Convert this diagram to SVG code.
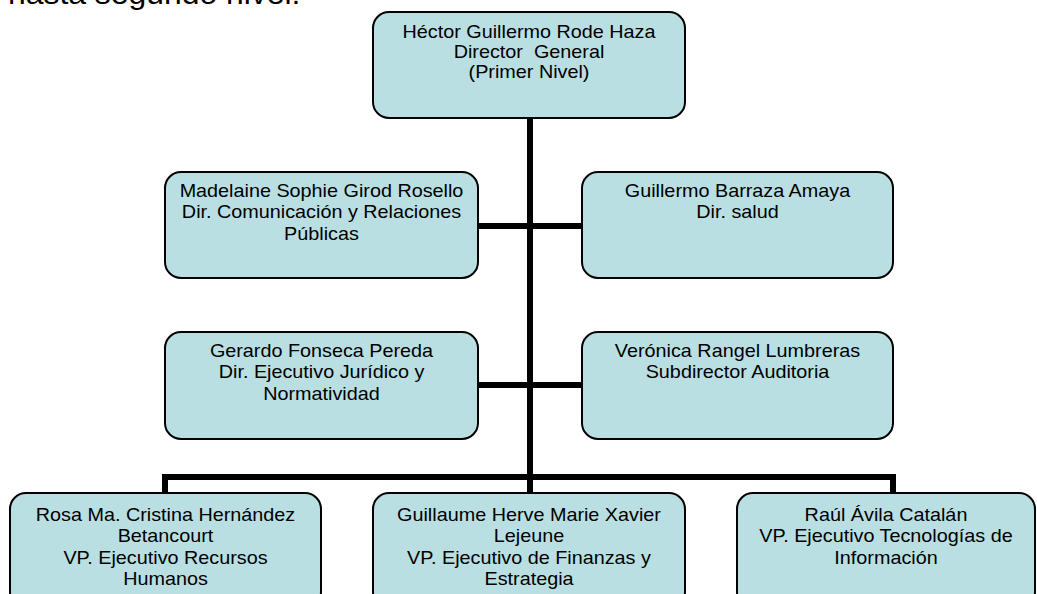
<svg xmlns="http://www.w3.org/2000/svg" width="1037" height="594" viewBox="0 0 1037 594">
<style>
.box{fill:#B9DFE3;stroke:#000;stroke-width:2}
.t{font-family:"Liberation Sans",Arial,sans-serif;font-size:18px;fill:#000;text-anchor:middle}
.h{font-family:"Liberation Sans",Arial,sans-serif;font-size:29px;fill:#000}
.c{stroke:#000;stroke-width:6;fill:none}
</style>
<rect width="1037" height="594" fill="#fff"/>
<text class="h" transform="translate(8,4) scale(1.1,1)">hasta segundo nivel.</text>
<g id="connectors">
<line class="c" x1="530" y1="118" x2="530" y2="477"/>
<line class="c" x1="478" y1="226" x2="582" y2="226"/>
<line class="c" x1="478" y1="385" x2="582" y2="385"/>
<line class="c" x1="162" y1="477" x2="896" y2="477"/>
<line class="c" x1="165" y1="477" x2="165" y2="493"/>
<line class="c" x1="530" y1="477" x2="530" y2="493"/>
<line class="c" x1="893" y1="477" x2="893" y2="493"/>
</g>
<g id="n-hector">
<rect class="box" x="373" y="12" width="312" height="106" rx="16"/>
<text class="t" transform="translate(529,0) scale(1.1,1)"><tspan x="0" y="38">Héctor Guillermo Rode Haza</tspan><tspan x="0" y="58">Director&#160; General</tspan><tspan x="0" y="78">(Primer Nivel)</tspan></text>
</g>
<g id="n-madelaine">
<rect class="box" x="165" y="172" width="313" height="106" rx="16"/>
<text class="t" transform="translate(321.5,0) scale(1.1,1)"><tspan x="0" y="197">Madelaine Sophie Girod Rosello</tspan><tspan x="0" y="218.5">Dir. Comunicación y Relaciones</tspan><tspan x="0" y="240">Públicas</tspan></text>
</g>
<g id="n-guillermo">
<rect class="box" x="582" y="172" width="311" height="106" rx="16"/>
<text class="t" transform="translate(737.5,0) scale(1.1,1)"><tspan x="0" y="197">Guillermo Barraza Amaya</tspan><tspan x="0" y="218.5">Dir. salud</tspan></text>
</g>
<g id="n-gerardo">
<rect class="box" x="165" y="332" width="313" height="107" rx="16"/>
<text class="t" transform="translate(321.5,0) scale(1.1,1)"><tspan x="0" y="357">Gerardo Fonseca Pereda</tspan><tspan x="0" y="378.5">Dir. Ejecutivo Jurídico y</tspan><tspan x="0" y="400">Normatividad</tspan></text>
</g>
<g id="n-veronica">
<rect class="box" x="582" y="332" width="311" height="107" rx="16"/>
<text class="t" transform="translate(737.5,0) scale(1.1,1)"><tspan x="0" y="357">Verónica Rangel Lumbreras</tspan><tspan x="0" y="378.5">Subdirector Auditoria</tspan></text>
</g>
<g id="n-rosa">
<rect class="box" x="10" y="493" width="311" height="115" rx="16"/>
<text class="t" transform="translate(165.5,0) scale(1.1,1)"><tspan x="0" y="521">Rosa Ma. Cristina Hernández</tspan><tspan x="0" y="542.5">Betancourt</tspan><tspan x="0" y="564">VP. Ejecutivo Recursos</tspan><tspan x="0" y="585.5">Humanos</tspan></text>
</g>
<g id="n-guillaume">
<rect class="box" x="373" y="493" width="312" height="115" rx="16"/>
<text class="t" transform="translate(529,0) scale(1.1,1)"><tspan x="0" y="521">Guillaume Herve Marie Xavier</tspan><tspan x="0" y="542.5">Lejeune</tspan><tspan x="0" y="564">VP. Ejecutivo de Finanzas y</tspan><tspan x="0" y="585.5">Estrategia</tspan></text>
</g>
<g id="n-raul">
<rect class="box" x="737" y="493" width="298" height="115" rx="16"/>
<text class="t" transform="translate(886,0) scale(1.1,1)"><tspan x="0" y="521">Raúl Ávila Catalán</tspan><tspan x="0" y="542.5">VP. Ejecutivo Tecnologías de</tspan><tspan x="0" y="564">Información</tspan></text>
</g>
</svg>
